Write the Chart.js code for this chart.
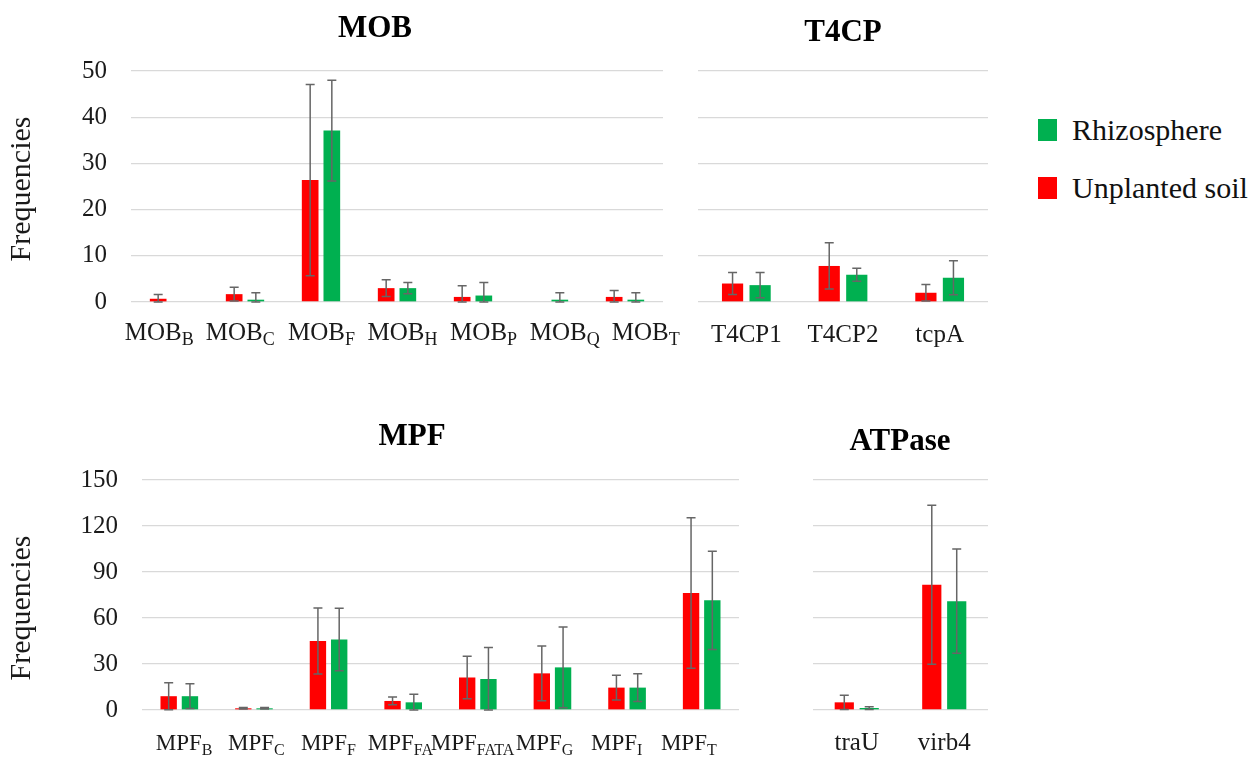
<!DOCTYPE html>
<html lang="en">
<head>
    <meta charset="UTF-8">
    <title>Gene frequencies</title>
    <script src="https://cdn.jsdelivr.net/npm/chart.js"></script>
    <style>
        body { margin: 0; background: #fff; width: 1257px; height: 757px; position: relative; overflow: hidden; }
        .panel { position: absolute; }
        #legend { position: absolute; left: 1038px; top: 115px; font-family: "Liberation Serif", serif; font-size: 30px; color: #111; }
        #legend .item { display: flex; align-items: center; height: 30px; margin-bottom: 28px; }
        #legend .box { width: 19px; height: 22px; margin-right: 15px; }
    </style>
</head>
<body>
    <div class="panel" style="left:0;top:0;width:680px;height:380px"><canvas id="mob-chart"></canvas></div>
    <div class="panel" style="left:680px;top:0;width:330px;height:380px"><canvas id="t4cp-chart"></canvas></div>
    <div class="panel" style="left:0;top:390px;width:780px;height:367px"><canvas id="mpf-chart"></canvas></div>
    <div class="panel" style="left:780px;top:390px;width:230px;height:367px"><canvas id="atpase-chart"></canvas></div>
    <div id="legend"></div>
    <script>
    // datos (media y desviacion)
    const mobCategories = ['MOB_B', 'MOB_C', 'MOB_F', 'MOB_H', 'MOB_P', 'MOB_Q', 'MOB_T'];
    const mobUnplanted = [0.7, 1.7, 26.4, 3.0, 1.1, 0, 1.1];
    const mobUnplantedErr = [0.9, 1.5, 20.7, 1.8, 2.4, 0, 1.4];
    const mobRhizo = [0, 0.5, 37.1, 3.0, 1.4, 0.5, 0.5];
    const mobRhizoErr = [0, 1.5, 10.9, 1.2, 2.8, 1.5, 1.5];

    const t4cpCategories = ['T4CP1', 'T4CP2', 'tcpA'];
    const t4cpUnplanted = [4.0, 7.8, 2.0];
    const t4cpUnplantedErr = [2.4, 5.0, 1.8];
    const t4cpRhizo = [3.65, 5.9, 5.25];
    const t4cpRhizoErr = [2.75, 1.4, 3.7];

    const mpfCategories = ['MPF_B', 'MPF_C', 'MPF_F', 'MPF_FA', 'MPF_FATA', 'MPF_G', 'MPF_I', 'MPF_T'];
    const mpfUnplanted = [9.0, 1.1, 45.0, 5.9, 21.2, 23.9, 14.6, 76.3];
    const mpfUnplantedErr = [8.8, 0.5, 21.5, 2.5, 13.9, 17.9, 8.1, 49.0];
    const mpfRhizo = [9.0, 1.1, 46.0, 5.0, 20.2, 27.8, 14.6, 71.5];
    const mpfRhizoErr = [8.1, 0.5, 20.4, 5.2, 20.5, 26.3, 9.0, 32.0];

    const atpaseCategories = ['traU', 'virb4'];
    const atpaseUnplanted = [5.0, 81.7];
    const atpaseUnplantedErr = [4.6, 51.9];
    const atpaseRhizo = [1.3, 71.0];
    const atpaseRhizoErr = [0.9, 34.0];

    const mobTicks = [0, 10, 20, 30, 40, 50];
    const mpfTicks = [0, 30, 60, 90, 120, 150];

    const RED = '#ff0000';
    const GREEN = '#00b050';
    const SERIF = '"Liberation Serif", "Times New Roman", serif';

    // barras de error + etiquetas con subindice + titulos
    const panelDecor = {
        id: 'panelDecor',
        afterDatasetsDraw(chart) {
            const ctx = chart.ctx;
            const y = chart.scales.y;
            ctx.save();
            ctx.strokeStyle = '#666';
            ctx.lineWidth = 1.5;
            chart.data.datasets.forEach((ds, di) => {
                chart.getDatasetMeta(di).data.forEach((bar, i) => {
                    const v = ds.data[i], e = ds.errors[i];
                    if (!e) return;
                    const top = y.getPixelForValue(v + e);
                    const bot = y.getPixelForValue(Math.max(0, v - e));
                    ctx.beginPath();
                    ctx.moveTo(bar.x, top); ctx.lineTo(bar.x, bot);
                    ctx.moveTo(bar.x - 4.5, top); ctx.lineTo(bar.x + 4.5, top);
                    ctx.moveTo(bar.x - 4.5, bot); ctx.lineTo(bar.x + 4.5, bot);
                    ctx.stroke();
                });
            });
            ctx.restore();
        },
        afterDraw(chart, args, opts) {
            const ctx = chart.ctx;
            const x = chart.scales.x;
            const area = chart.chartArea;
            const n = chart.data.labels.length;
            const step = (area.right - area.left) / n;
            ctx.save();
            ctx.fillStyle = '#1a1a1a';
            ctx.textBaseline = 'alphabetic';
            const base = area.bottom + opts.labelGap;
            chart.data.labels.forEach((lab, i) => {
                const [main, sub] = lab.split('_');
                const mainFont = opts.labelSize + 'px ' + SERIF;
                const subFont = Math.round(opts.labelSize * 0.7) + 'px ' + SERIF;
                ctx.font = mainFont;
                const w1 = ctx.measureText(main).width;
                ctx.font = subFont;
                const w2 = sub ? ctx.measureText(sub).width : 0;
                // las etiquetas del original quedan un poco mas abiertas/cerradas que las barras
                const cx = x.getPixelForTick(i) + (i - (n - 1) / 2) * (opts.spread - 1) * step + opts.shift;
                const x0 = cx - (w1 + w2) / 2;
                ctx.textAlign = 'left';
                ctx.font = mainFont;
                ctx.fillText(main, x0, base);
                if (sub) {
                    ctx.font = subFont;
                    ctx.fillText(sub, x0 + w1, base + 5);
                }
            });
            ctx.font = 'bold 31px ' + SERIF;
            ctx.fillStyle = '#000';
            ctx.textAlign = 'center';
            ctx.fillText(opts.title, opts.titleX, opts.titleY);
            if (opts.yTitleY) {
                ctx.save();
                ctx.translate(22, opts.yTitleY);
                ctx.rotate(-Math.PI / 2);
                ctx.font = '30px ' + SERIF;
                ctx.fillStyle = '#1a1a1a';
                ctx.textBaseline = 'middle';
                ctx.fillText('Frequencies', 0, 0);
                ctx.restore();
            }
            ctx.restore();
        }
    };

    function makeChart(id, cats, red, redErr, green, greenErr, ticks, cfg) {
        const max = ticks[ticks.length - 1];
        return new Chart(document.getElementById(id), {
            type: 'bar',
            data: {
                labels: cats,
                datasets: [
                    { label: 'Unplanted soil', data: red, errors: redErr, backgroundColor: RED },
                    { label: 'Rhizosphere', data: green, errors: greenErr, backgroundColor: GREEN }
                ]
            },
            options: {
                responsive: true,
                maintainAspectRatio: false,
                animation: false,
                categoryPercentage: 0.57,
                barPercentage: 0.77,
                layout: { padding: cfg.padding },
                plugins: {
                    legend: { display: false },
                    tooltip: { enabled: false },
                    panelDecor: cfg.decor
                },
                scales: {
                    x: {
                        grid: { display: false },
                        border: { display: false },
                        ticks: { display: false },
                        afterFit: s => { s.height = cfg.xHeight; }
                    },
                    y: {
                        min: 0,
                        max: max,
                        afterBuildTicks: s => { s.ticks = ticks.map(v => ({ value: v })); },
                        grid: { color: '#d9d9d9', lineWidth: 1.3, drawTicks: false },
                        border: { display: false },
                        ticks: {
                            display: cfg.showY,
                            padding: 24,
                            color: '#1a1a1a',
                            font: { family: SERIF, size: 25 }
                        },
                        afterFit: s => { s.width = cfg.yWidth; }
                    }
                }
            },
            plugins: [panelDecor]
        });
    }

    const charts = [];
    charts.push(makeChart('mob-chart', mobCategories, mobUnplanted, mobUnplantedErr, mobRhizo, mobRhizoErr, mobTicks, {
        padding: { left: 0, top: 71, right: 17, bottom: 0 }, xHeight: 78, yWidth: 131, showY: true,
        decor: { title: 'MOB', titleX: 375, titleY: 37, labelSize: 25, labelGap: 38, spread: 1.067, shift: 5.5, yTitleY: 189 }
    }));
    charts.push(makeChart('t4cp-chart', t4cpCategories, t4cpUnplanted, t4cpUnplantedErr, t4cpRhizo, t4cpRhizoErr, mobTicks, {
        padding: { left: 18, top: 71, right: 22, bottom: 0 }, xHeight: 78, yWidth: 0, showY: false,
        decor: { title: 'T4CP', titleX: 163, titleY: 41, labelSize: 25, labelGap: 40, spread: 1, shift: 0 }
    }));
    charts.push(makeChart('mpf-chart', mpfCategories, mpfUnplanted, mpfUnplantedErr, mpfRhizo, mpfRhizoErr, mpfTicks, {
        padding: { left: 0, top: 90, right: 41, bottom: 0 }, xHeight: 47, yWidth: 142, showY: true,
        decor: { title: 'MPF', titleX: 412, titleY: 55, labelSize: 23, labelGap: 40, spread: 0.966, shift: -4, yTitleY: 218 }
    }));
    charts.push(makeChart('atpase-chart', atpaseCategories, atpaseUnplanted, atpaseUnplantedErr, atpaseRhizo, atpaseRhizoErr, mpfTicks, {
        padding: { left: 33, top: 90, right: 22, bottom: 0 }, xHeight: 47, yWidth: 0, showY: false,
        decor: { title: 'ATPase', titleX: 120, titleY: 60, labelSize: 25, labelGap: 40, spread: 1, shift: 0 }
    }));

    // leyenda en HTML a partir de los datasets (orden invertido como en el original)
    const legend = document.getElementById('legend');
    charts[0].data.datasets.slice().reverse().forEach(ds => {
        const item = document.createElement('div');
        item.className = 'item';
        item.innerHTML = `<span class="box" style="background:${ds.backgroundColor}"></span><span>${ds.label}</span>`;
        legend.appendChild(item);
    });
    </script>
</body>
</html>
